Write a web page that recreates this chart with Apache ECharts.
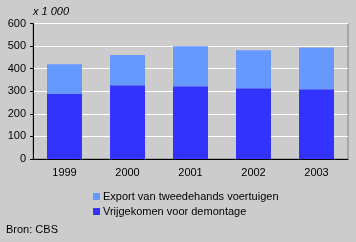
<!DOCTYPE html>
<html><head><meta charset="utf-8">
<script src="https://cdn.jsdelivr.net/npm/echarts@6/dist/echarts.min.js"></script>
<style>html,body{margin:0;padding:0;background:#cccccc;}#c{width:356px;height:242px;}</style>
</head><body><div id="c"></div>
<script>
const categories = ['1999','2000','2001','2002','2003'];
const demontage = [288, 327, 322, 313, 309];
const export2 = [132, 133, 177, 168, 185];
const yTicks = [0,100,200,300,400,500,600];
const nameExport = 'Export van tweedehands voertuigen';
const nameDemontage = 'Vrijgekomen voor demontage';

const chart = echarts.init(document.getElementById('c'));
const font = 'Liberation Sans, Arial, sans-serif';
chart.setOption({
  backgroundColor: '#cccccc',
  animation: false,
  textStyle: {fontFamily: font},
  grid: {left: 33, right: 8, top: 23.5, bottom: 83, show: true, borderColor: '#808080', borderWidth: 1, backgroundColor: 'transparent'},
  graphic: [
    {type: 'text', left: 33, top: 6, style: {text: 'x 1 000', font: 'italic 11px ' + font, fill: '#000'}},
    {type: 'text', left: 6, top: 224, style: {text: 'Bron: CBS', font: '11px ' + font, fill: '#000'}}
  ],
  legend: {
    orient: 'vertical', left: 93, top: 191, padding: 0, itemWidth: 7, itemHeight: 7, itemGap: 4,
    icon: 'rect', data: [nameExport, nameDemontage],
    textStyle: {fontSize: 11, color: '#000', fontFamily: font, padding: [0,0,0,-2]}
  },
  xAxis: {
    type: 'category', data: categories,
    axisLine: {lineStyle: {color: '#000', width: 1}},
    axisTick: {show: false},
    axisLabel: {color: '#000', fontSize: 11, margin: 8, fontFamily: font}
  },
  yAxis: {
    type: 'value', min: 0, max: 600, interval: 100,
    axisLine: {show: true, lineStyle: {color: '#000'}},
    axisTick: {show: true, length: 3, lineStyle: {color: '#000'}},
    axisLabel: {color: '#000', fontSize: 11, margin: 7, fontFamily: font,
      formatter: v => yTicks.includes(v) ? String(v) : ''},
    splitLine: {lineStyle: {color: '#ffffff', width: 1}}
  },
  series: [
    {name: nameDemontage, type: 'bar', stack: 's', data: demontage, barWidth: 35, itemStyle: {color: '#3333ff'}},
    {name: nameExport, type: 'bar', stack: 's', data: export2, barWidth: 35, itemStyle: {color: '#6699ff'}}
  ]
});
</script></body></html>
